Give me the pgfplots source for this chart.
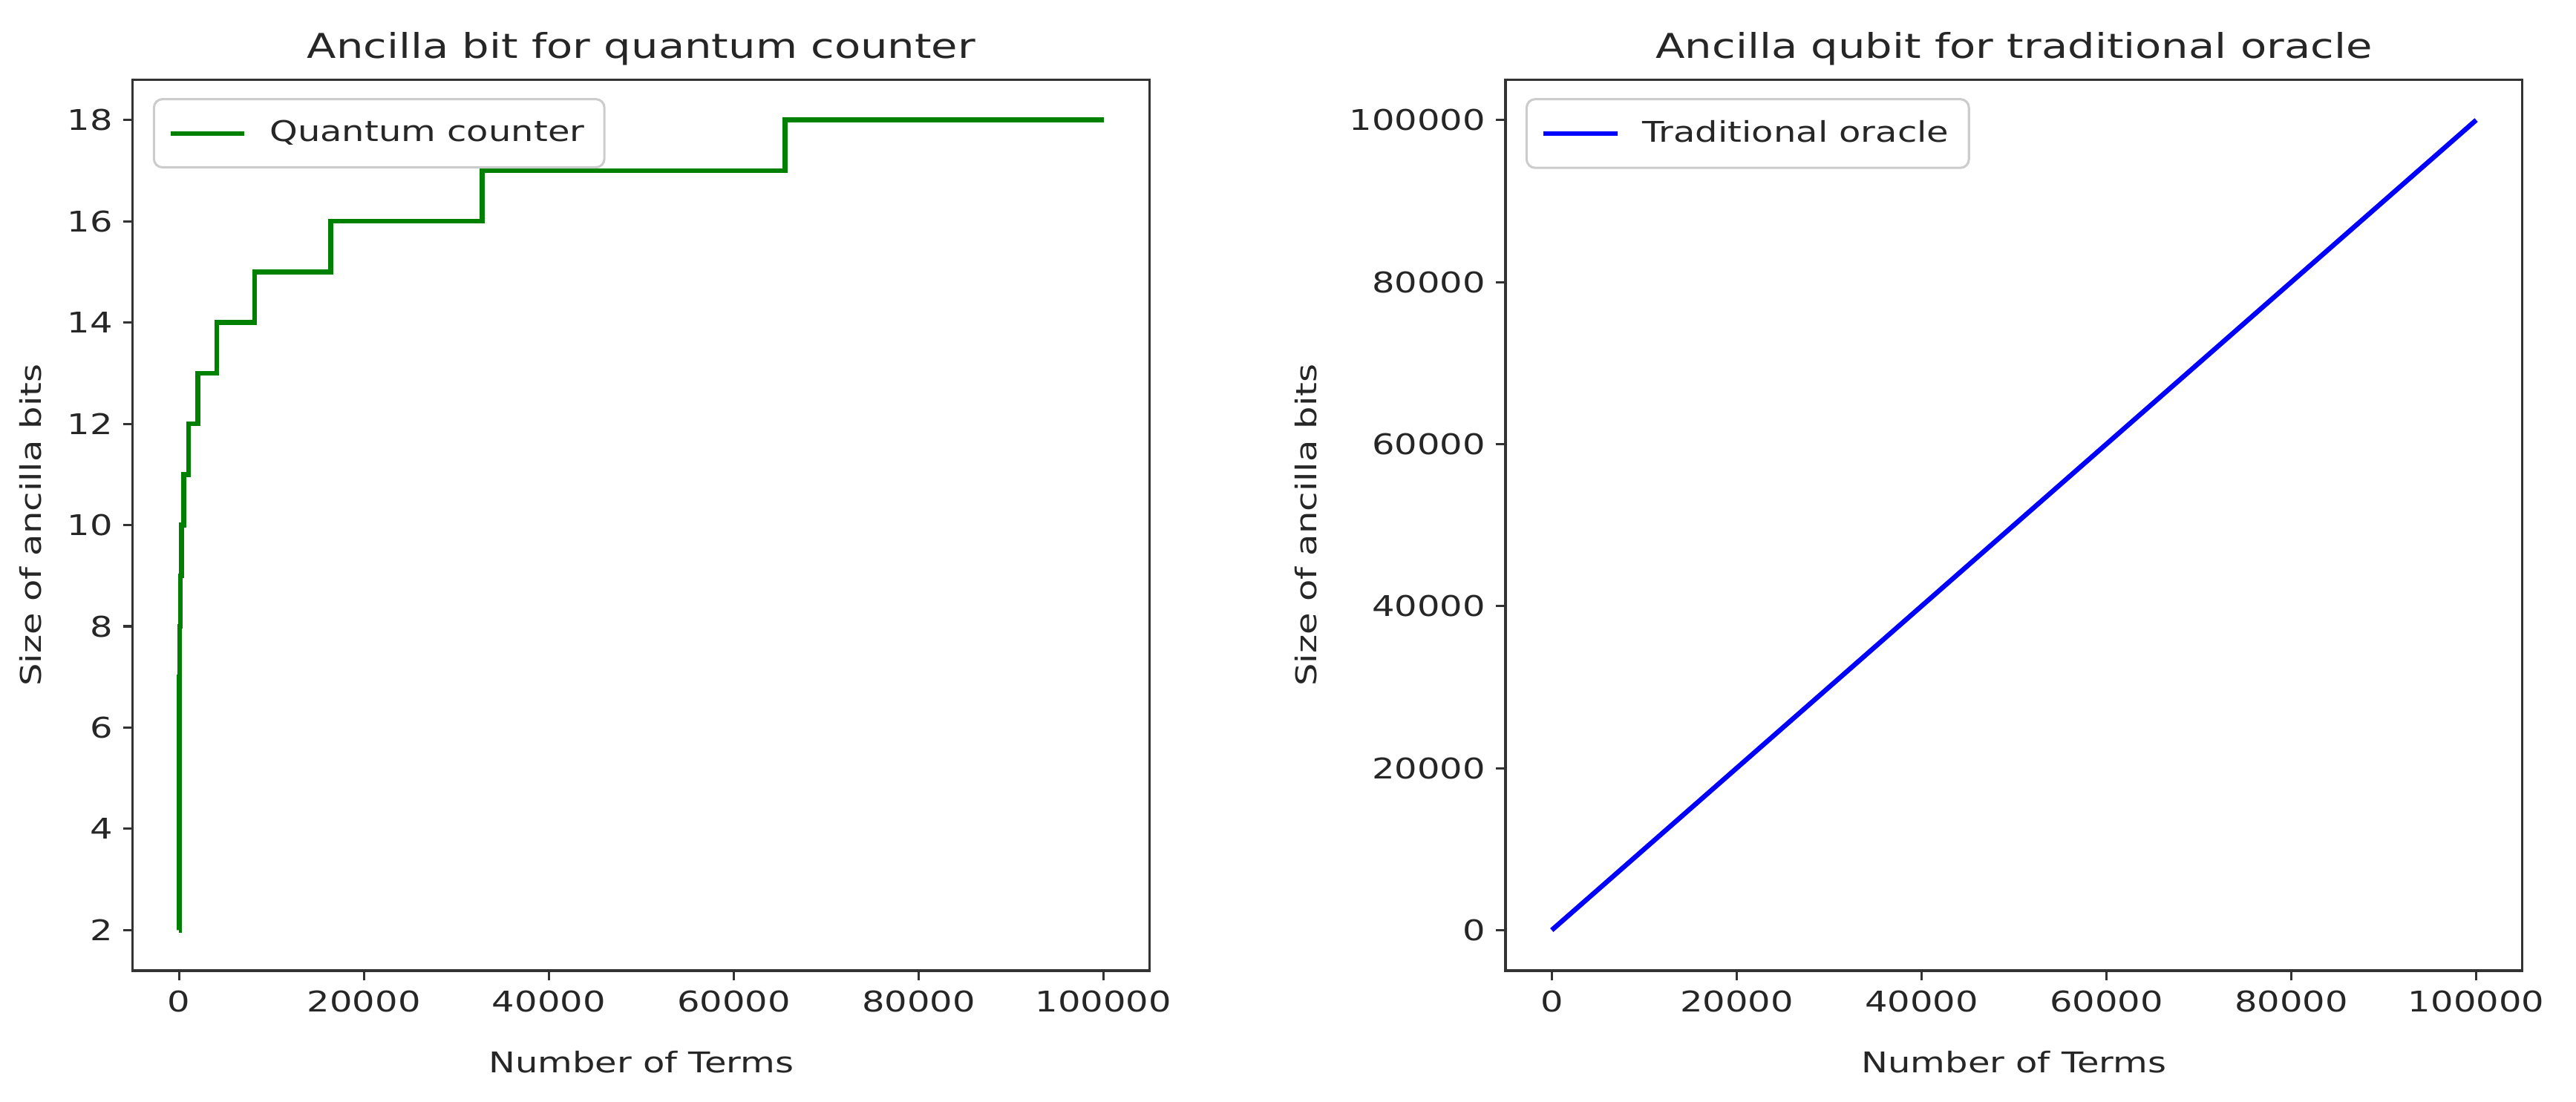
\documentclass[border=0pt]{standalone}
\usepackage{fontspec}
\setmainfont[FakeStretch=1.25]{DejaVu Sans}
\usepackage{pgfplots}
\pgfplotsset{compat=1.18}

\definecolor{mplgreen}{HTML}{008000}
\definecolor{mplblue}{HTML}{0000FF}

\pgfplotsset{
  mpl/.style={
    scale only axis,
    width=356.7pt,
    height=312.7pt,
    axis line style={line width=0.8pt, black!80},
    tick align=outside,
    major tick length=3.5pt,
    tick style={line width=0.8pt, black!80},
    xtick pos=bottom,
    ytick pos=left,
    xmin=-5000, xmax=105000,
    xtick={0,20000,40000,60000,80000,100000},
    scaled x ticks=false,
    scaled y ticks=false,
    /pgf/number format/assume math mode=true,
    /pgf/number format/fixed,
    /pgf/number format/1000 sep={},
    tick label style={font=\fontsize{10}{12}\selectfont, black!85},
    label style={font=\fontsize{10}{12}\selectfont, black!85},
    xlabel={Number of Terms},
    ylabel={Size of ancilla bits},
    xlabel style={at={(axis description cs:0.5,0)}, anchor=center, yshift=-32pt},
    title style={at={(axis description cs:0.5,1)}, anchor=base, yshift=1.5pt,
      inner sep=0pt, font=\fontsize{12}{14}\selectfont, black!85},
    legend style={at={(0,1)}, anchor=north west, xshift=7pt, yshift=-6.5pt,
      draw=black!20, line width=0.8pt, rounded corners=3pt, fill=white,
      inner xsep=5pt, inner ysep=5.5pt, /tikz/column sep=6pt,
      font=\fontsize{10}{12}\selectfont, text=black!85},
    legend cell align=left,
    legend image code/.code={
      \draw[##1, line width=1.6pt] (0pt,0pt) -- (26pt,0pt);
    },
  }
}

\begin{document}
\begin{tikzpicture}
\useasboundingbox (-46.6pt,-45.9pt) rectangle (857pt,340.6pt);
\begin{axis}[
  mpl,
  title={Ancilla bit for quantum counter},
  ymin=1.2, ymax=18.8,
  ytick={2,4,6,8,10,12,14,16,18},
  ylabel style={at={(axis description cs:0,0.5)}, anchor=center, yshift=36pt},
]
  \addplot[color=mplgreen, line width=1.7pt, const plot mark left] coordinates {
    (1,2) (2,3) (4,4) (8,5) (16,6) (32,7) (64,8) (128,9) (256,10) (512,11)
    (1024,12) (2048,13) (4096,14) (8192,15) (16384,16) (32768,17) (65536,18)
    (100000,18)
  };
  \addlegendentry{Quantum counter}
\end{axis}
\begin{axis}[
  mpl,
  xshift=481.5pt,
  title={Ancilla qubit for traditional oracle},
  ymin=-5000, ymax=105000,
  ytick={0,20000,40000,60000,80000,100000},
  ylabel style={at={(axis description cs:0,0.5)}, anchor=center, yshift=70pt},
]
  \addplot[color=mplblue, line width=1.7pt] coordinates {
    (1,1) (100000,100000)
  };
  \addlegendentry{Traditional oracle}
\end{axis}
\end{tikzpicture}
\end{document}
